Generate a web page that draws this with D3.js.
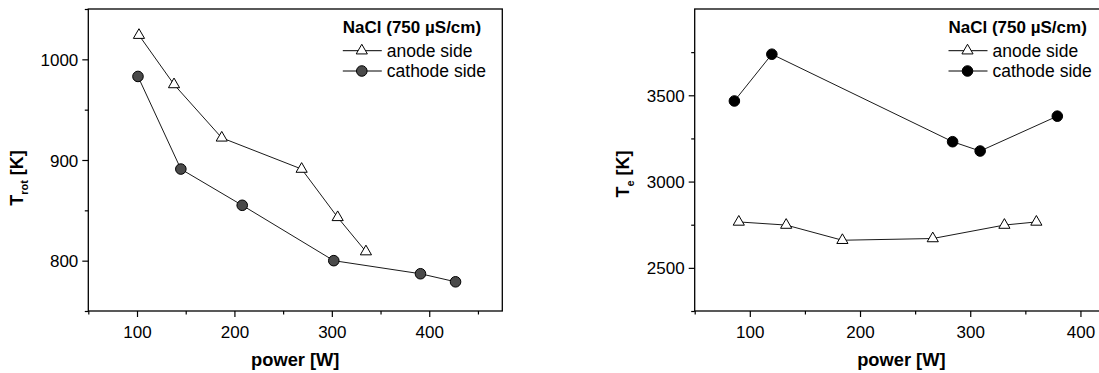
<!DOCTYPE html>
<html><head><meta charset="utf-8">
<script src="https://cdn.jsdelivr.net/npm/d3@7"></script>
<style>
html,body{margin:0;padding:0;background:#fff;overflow:hidden}
svg{display:block}
text{font-family:"Liberation Sans",Arial,sans-serif;fill:#000}
</style></head>
<body>
<svg id="c" width="1099" height="373"></svg>
<script>
// ---- data ----
const legendTitle = "NaCl (750 \u00B5S/cm)";
const seriesNames = ["anode side", "cathode side"];
const xLabel = "power [W]";

const rotAnodePower = [102, 138, 187, 269, 306, 335];
const rotAnodeT     = [1024, 975, 922, 891, 843, 809];
const rotCathodePower = [101, 145, 208, 302, 391, 427];
const rotCathodeT     = [983, 891, 855, 800, 787, 779];

const teAnodePower = [90, 133, 184, 266, 331, 360];
const teAnodeT     = [2766, 2748, 2660, 2670, 2748, 2766];
const teCathodePower = [86, 120, 284, 309, 379];
const teCathodeT     = [3467, 3738, 3231, 3177, 3379];

const rotXTicks = [100, 200, 300, 400];
const rotXMinor = [50, 150, 250, 350, 450];
const rotYTicks = [800, 900, 1000];
const rotYMinor = [750, 850, 950, 1050];
const teXTicks = [100, 200, 300, 400];
const teXMinor = [50, 150, 250, 350];
const teYTicks = [2500, 3000, 3500];
const teYMinor = [2250, 2750, 3250, 3750];

const svg = d3.select("#c");

function panel(cfg) {
  const g = svg.append("g");
  const x = d3.scaleLinear().domain(cfg.xDomain).range([cfg.left, cfg.right]);
  const y = d3.scaleLinear().domain(cfg.yDomain).range([cfg.bottom, cfg.top]);

  // frame
  g.append("rect").attr("x", cfg.left).attr("y", cfg.top)
    .attr("width", cfg.right - cfg.left).attr("height", cfg.bottom - cfg.top)
    .attr("fill", "none").attr("stroke", "#000").attr("stroke-width", 1.3);

  // axes
  const xAx = g.append("g").attr("transform", `translate(0,${cfg.bottom})`)
    .call(d3.axisBottom(x).tickValues(cfg.xTicks).tickSize(6).tickPadding(5).tickFormat(d3.format("d")));
  const xAxMin = g.append("g").attr("transform", `translate(0,${cfg.bottom})`)
    .call(d3.axisBottom(x).tickValues(cfg.xMinor).tickSize(3.5).tickFormat(""));
  const yAx = g.append("g").attr("transform", `translate(${cfg.left},0)`)
    .call(d3.axisLeft(y).tickValues(cfg.yTicks).tickSize(6).tickPadding(4).tickFormat(d3.format("d")));
  const yAxMin = g.append("g").attr("transform", `translate(${cfg.left},0)`)
    .call(d3.axisLeft(y).tickValues(cfg.yMinor).tickSize(3.5).tickFormat(""));
  [xAx, xAxMin, yAx, yAxMin].forEach(a => {
    a.select(".domain").remove();
    a.selectAll("line").attr("stroke", "#000").attr("stroke-width", 1.2);
    a.selectAll("text").attr("font-size", 17).attr("font-family", "Liberation Sans, Arial, sans-serif");
  });
  xAx.selectAll("text").attr("dy", "0.95em");
  yAx.selectAll("text").attr("dy", "0.36em");

  // axis titles
  g.append("text").attr("x", (cfg.left + cfg.right) / 2).attr("y", 366)
    .attr("text-anchor", "middle").attr("font-size", 18.3).attr("font-weight", "bold").text(xLabel);
  const yt = g.append("text").attr("transform", `translate(${cfg.yTitleX},${cfg.yTitleY}) rotate(-90)`)
    .attr("text-anchor", "middle").attr("font-size", 18).attr("font-weight", "bold");
  yt.append("tspan").text("T");
  yt.append("tspan").attr("font-size", 11).attr("dy", 5).text(cfg.sub);
  yt.append("tspan").attr("dy", -5).text(" [K]");

  const line = d3.line().x(d => x(d[0])).y(d => y(d[1]));
  const tri = d3.symbol().type(d3.symbolTriangle).size(54);
  const circ = d3.symbol().type(d3.symbolCircle).size(88);

  const an = cfg.anodeX.map((v, i) => [v, cfg.anodeY[i]]);
  const ca = cfg.cathX.map((v, i) => [v, cfg.cathY[i]]);
  [an, ca].forEach(d => g.append("path").attr("d", line(d)).attr("fill", "none")
    .attr("stroke", "#000").attr("stroke-width", 0.9));
  g.selectAll(null).data(an).enter().append("path").attr("d", tri)
    .attr("transform", d => `translate(${x(d[0])},${y(d[1])})`)
    .attr("fill", "#fff").attr("stroke", "#000").attr("stroke-width", 1);
  g.selectAll(null).data(ca).enter().append("path").attr("d", circ)
    .attr("transform", d => `translate(${x(d[0])},${y(d[1])})`)
    .attr("fill", cfg.circFill).attr("stroke", "#000").attr("stroke-width", 1);

  // legend
  const lx = cfg.right - 159.5;
  g.append("text").attr("x", lx).attr("y", 33).attr("font-size", 17).attr("font-weight", "bold").text(legendTitle);
  const rows = [{y: 50.7, sym: tri, fill: "#fff"}, {y: 71, sym: circ, fill: cfg.circFill}];
  rows.forEach((r, i) => {
    g.append("line").attr("x1", lx).attr("x2", lx + 39).attr("y1", r.y).attr("y2", r.y)
      .attr("stroke", "#000").attr("stroke-width", 1);
    g.append("path").attr("d", r.sym).attr("transform", `translate(${lx + 19},${r.y})`)
      .attr("fill", r.fill).attr("stroke", "#000").attr("stroke-width", 1);
    g.append("text").attr("x", lx + 44).attr("y", r.y + 6).attr("font-size", 17.5).text(seriesNames[i]);
  });
}

panel({
  left: 88.3, right: 502.3, top: 9, bottom: 311,
  xDomain: [50, 475], yDomain: [750, 1050],
  xTicks: rotXTicks, xMinor: rotXMinor, yTicks: rotYTicks, yMinor: rotYMinor,
  anodeX: rotAnodePower, anodeY: rotAnodeT, cathX: rotCathodePower, cathY: rotCathodeT,
  circFill: "#4a4a4a", sub: "rot", yTitleX: 23, yTitleY: 178
});
panel({
  left: 694.7, right: 1108, top: 9, bottom: 311,
  xDomain: [50, 425], yDomain: [2250, 4000],
  xTicks: teXTicks, xMinor: teXMinor, yTicks: teYTicks, yMinor: teYMinor,
  anodeX: teAnodePower, anodeY: teAnodeT, cathX: teCathodePower, cathY: teCathodeT,
  circFill: "#000", sub: "e", yTitleX: 629, yTitleY: 174
});
</script>
</body></html>
